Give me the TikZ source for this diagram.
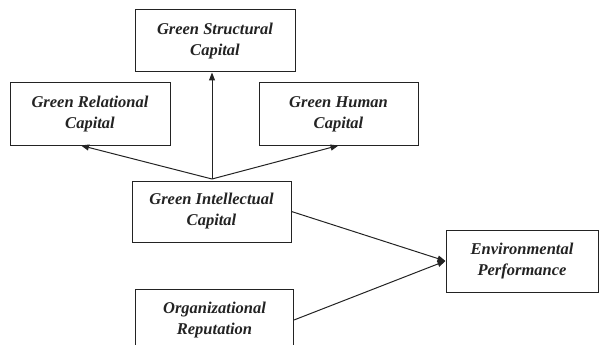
\documentclass[tikz,border=0pt]{standalone}
\usepackage{fontspec}
\setmainfont{Liberation Serif}
\usetikzlibrary{arrows.meta,positioning,calc}
\definecolor{ink}{RGB}{35,35,35}
\tikzset{
  >={Triangle[length=8pt,width=6pt]},
  capbox/.style={draw=ink,line width=1pt,minimum width=160pt,minimum height=62pt,
    align=center,text=ink,font=\fontsize{16.5}{21}\selectfont\bfseries\itshape,
    execute at begin node={\rule{0pt}{19pt}}},
  link/.style={->,line width=1pt,draw=ink},
}

\begin{document}
\begin{tikzpicture}[x=1pt,y=-1pt]
  \clip (0,0) rectangle (600,345);
  \node[capbox] (gsc) at (215,41) {Green Structural\\Capital};
  \node[capbox] (grc) at (90,114) {Green Relational\\Capital};
  \node[capbox,minimum width=159pt] (ghc) at (338.5,114) {Green Human\\Capital};
  \node[capbox,minimum width=159pt,minimum height=61pt] (gic) at (211.5,211.5) {Green Intellectual\\Capital};
  \node[capbox,minimum width=152pt] (ep) at (522,261) {Environmental\\Performance};
  \node[capbox,minimum width=158pt] (orep) at (214.5,320) {Organizational\\Reputation};
  % three dimensions out of one point
  \coordinate (fork) at (212,179);
  \draw[link] (fork) -- (fork |- gsc.south);
  \draw[link] (fork) -- ([xshift=-9pt]grc.south);
  \draw[link] (fork) -- (ghc.south);
  \draw[link] (gic.east) -- (ep.west);
  \draw[link] (orep.east) -- (ep.west);
\end{tikzpicture}
\end{document}
